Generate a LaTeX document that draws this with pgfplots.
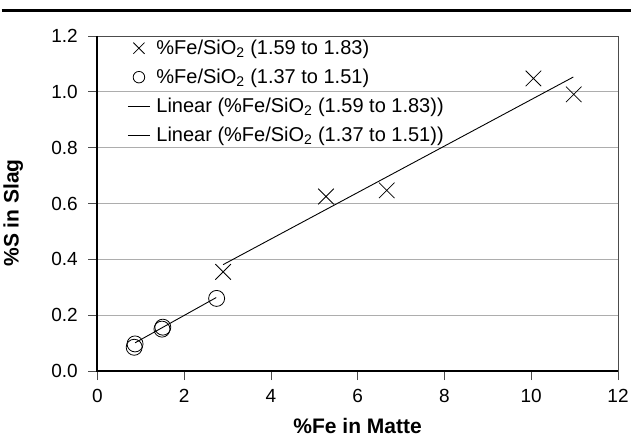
\documentclass[border=0pt]{standalone}
\usepackage{fontspec}
\setmainfont{Liberation Sans}
\usepackage{pgfplots}
\pgfplotsset{compat=1.18}
\begin{document}
\begin{tikzpicture}
\useasboundingbox (-97.3pt,-67pt) rectangle (533.7pt,371pt);
\draw[line width=3pt] (-95.6pt,360.3pt) -- (533.7pt,360.3pt);
\begin{axis}[
  scale only axis, width=520.7pt, height=335pt,
  xmin=0, xmax=12, ymin=0, ymax=1.2,
  xtick={0,2,4,6,8,10,12},
  ytick={0,0.2,0.4,0.6,0.8,1.0,1.2},
  yticklabel style={/pgf/number format/.cd, fixed, fixed zerofill, precision=1, /tikz/.cd, xshift=-7pt},
  xticklabel style={yshift=-6pt},
  /pgf/number format/assume math mode=true,
  ymajorgrids, grid style={black!32, line width=0.9pt},
  axis line style={black!70, line width=0.7pt},
  tick align=outside, tick pos=left, major tick length=9pt,
  major tick style={black!70, line width=0.7pt},
  ticklabel style={font=\fontsize{19}{22}\selectfont},
  xlabel={\%Fe in Matte}, ylabel={\%S in Slag},
  label style={font=\bfseries\fontsize{21}{24}\selectfont},
  xlabel style={at={(axis description cs:0.5,0)}, anchor=base, yshift=-63pt},
  ylabel style={at={(axis description cs:0,0.472)}, anchor=center, yshift=84pt},
  legend style={draw=none, fill=none, at={(axis description cs:0,1)}, anchor=north west,
    xshift=27pt, font=\fontsize{20}{22}\selectfont, row sep=9pt},
  legend cell align=left,
  legend image code/.code={\draw[#1, mark options={scale=0.72}, mark repeat=2, mark phase=2] plot coordinates {(0pt,0pt) (11pt,0pt) (22pt,0pt)}; \path (26pt,0pt);},
  after end axis/.code={\draw[black, line width=1.8pt] (rel axis cs:0,1) -- (rel axis cs:0,0) -- (rel axis cs:1,0);},
]
\addplot[only marks, mark=x, mark size=11pt, line width=0.8pt, black] coordinates {
  (2.90,0.355) (5.27,0.625) (6.67,0.647) (10.05,1.048) (10.98,0.991)
};
\addlegendentry{\%Fe/SiO\textsubscript{2} (1.59 to 1.83)}
\addplot[only marks, mark=o, mark size=8pt, line width=0.8pt, black] coordinates {
  (0.87,0.097) (0.85,0.085) (1.51,0.157) (1.49,0.150) (2.75,0.260)
};
\addlegendentry{\%Fe/SiO\textsubscript{2} (1.37 to 1.51)}
\addplot[no marks, black, line width=0.9pt] coordinates {(2.90,0.381) (10.97,1.053)};
\addlegendentry{Linear (\%Fe/SiO\textsubscript{2} (1.59 to 1.83))}
\addplot[no marks, black, line width=0.9pt] coordinates {(0.87,0.101) (2.74,0.263)};
\addlegendentry{Linear (\%Fe/SiO\textsubscript{2} (1.37 to 1.51))}
\end{axis}
\end{tikzpicture}
\end{document}
